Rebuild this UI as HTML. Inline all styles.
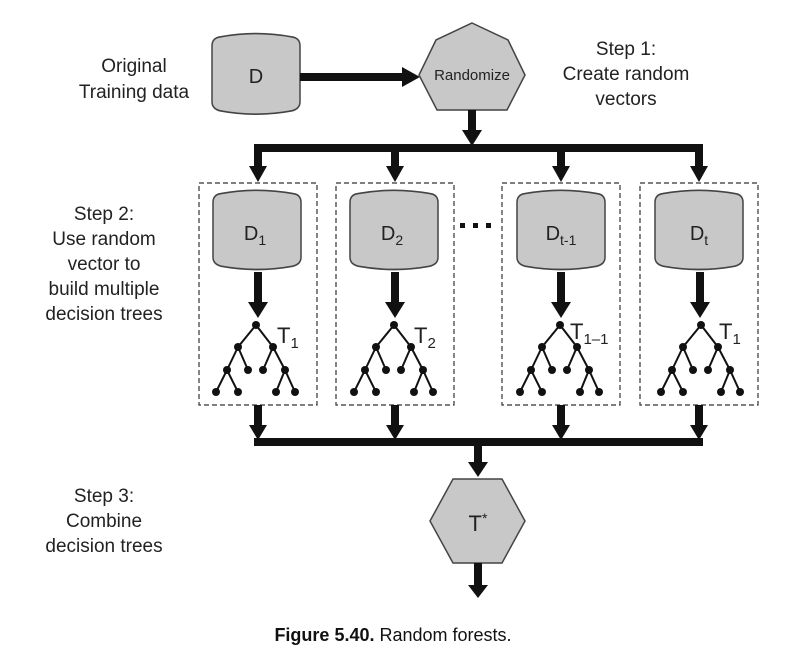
<!DOCTYPE html>
<html><head><style>
body{margin:0;background:#fff;}
svg{display:block;font-family:"Liberation Sans",sans-serif;}
</style></head><body>
<svg width="787" height="660" viewBox="0 0 787 660" xmlns="http://www.w3.org/2000/svg">
<defs>
<g id="tree" stroke="#111" stroke-width="2" fill="#111">
<line x1="0" y1="0" x2="-18" y2="22"/><line x1="0" y1="0" x2="17" y2="22"/>
<line x1="-18" y1="22" x2="-29" y2="45"/><line x1="-18" y1="22" x2="-8" y2="45"/>
<line x1="17" y1="22" x2="7" y2="45"/><line x1="17" y1="22" x2="29" y2="45"/>
<line x1="-29" y1="45" x2="-40" y2="67"/><line x1="-29" y1="45" x2="-18" y2="67"/>
<line x1="29" y1="45" x2="20" y2="67"/><line x1="29" y1="45" x2="39" y2="67"/>
<g stroke="none">
<circle cx="0" cy="0" r="4"/><circle cx="-18" cy="22" r="4"/><circle cx="17" cy="22" r="4"/>
<circle cx="-29" cy="45" r="4"/><circle cx="-8" cy="45" r="4"/><circle cx="7" cy="45" r="4"/><circle cx="29" cy="45" r="4"/>
<circle cx="-40" cy="67" r="4"/><circle cx="-18" cy="67" r="4"/><circle cx="20" cy="67" r="4"/><circle cx="39" cy="67" r="4"/>
</g></g>
<path id="cyl" d="M-44,-26 Q-44,-33 -36,-34 Q0,-40 36,-34 Q44,-33 44,-26 L44,24 Q44,30 36,32 Q0,38 -36,32 Q-44,30 -44,24 Z" fill="#c8c8c8" stroke="#444" stroke-width="1.5"/>
</defs>

<g font-size="19" fill="#222" text-anchor="middle">
<text x="134" y="72">Original</text><text x="134" y="98">Training data</text>
<text x="626" y="55">Step 1:</text><text x="626" y="80">Create random</text><text x="626" y="105">vectors</text>
<text x="104" y="220">Step 2:</text><text x="104" y="245">Use random</text><text x="104" y="270">vector to</text><text x="104" y="295">build multiple</text><text x="104" y="320">decision trees</text>
<text x="104" y="502">Step 3:</text><text x="104" y="527">Combine</text><text x="104" y="552">decision trees</text>
</g>

<use href="#cyl" transform="translate(256,75) scale(1,1.12)"/>
<text x="256" y="83" font-size="20" text-anchor="middle" fill="#222">D</text>
<rect x="300" y="73" width="105" height="8" fill="#111"/>
<polygon points="402,67 420,77 402,87" fill="#111"/>

<polygon points="472,23 508,40 525,75 507,110 437,110 419,75 436,40" fill="#c8c8c8" stroke="#444" stroke-width="1.5"/>
<text x="472" y="80" font-size="15" text-anchor="middle" fill="#222">Randomize</text>
<rect x="468" y="110" width="8" height="28" fill="#111"/>
<polygon points="462,130 482,130 472,146" fill="#111"/>

<rect x="254" y="144" width="449" height="8" fill="#111"/>
<g fill="#111">
<rect x="254" y="148" width="8" height="22"/><polygon points="249,166 267,166 258,182"/>
<rect x="391" y="148" width="8" height="22"/><polygon points="386,166 404,166 395,182"/>
<rect x="557" y="148" width="8" height="22"/><polygon points="552,166 570,166 561,182"/>
<rect x="695" y="148" width="8" height="22"/><polygon points="690,166 708,166 699,182"/>
</g>

<g fill="none" stroke="#333" stroke-width="1.2" stroke-dasharray="5,3">
<rect x="199" y="183" width="118" height="222"/>
<rect x="336" y="183" width="118" height="222"/>
<rect x="502" y="183" width="118" height="222"/>
<rect x="640" y="183" width="118" height="222"/>
</g>
<g fill="#111"><rect x="460" y="223" width="5" height="5"/><rect x="473" y="223" width="5" height="5"/><rect x="486" y="223" width="5" height="5"/></g>

<use href="#cyl" transform="translate(257,231) scale(1,1.1)"/>
<use href="#cyl" transform="translate(394,231) scale(1,1.1)"/>
<use href="#cyl" transform="translate(561,231) scale(1,1.1)"/>
<use href="#cyl" transform="translate(699,231) scale(1,1.1)"/>
<g font-size="20" fill="#222" text-anchor="middle">
<text x="255" y="240">D<tspan font-size="14" dy="5">1</tspan></text>
<text x="392" y="240">D<tspan font-size="14" dy="5">2</tspan></text>
<text x="561" y="240">D<tspan font-size="14" dy="5">t-1</tspan></text>
<text x="699" y="240">D<tspan font-size="14" dy="5">t</tspan></text>
</g>

<g fill="#111">
<rect x="254" y="272" width="8" height="32"/><polygon points="248,302 268,302 258,318"/>
<rect x="391" y="272" width="8" height="32"/><polygon points="385,302 405,302 395,318"/>
<rect x="557" y="272" width="8" height="32"/><polygon points="551,302 571,302 561,318"/>
<rect x="696" y="272" width="8" height="32"/><polygon points="690,302 710,302 700,318"/>
</g>

<use href="#tree" transform="translate(256,325)"/>
<use href="#tree" transform="translate(394,325)"/>
<use href="#tree" transform="translate(560,325)"/>
<use href="#tree" transform="translate(701,325)"/>
<g font-size="22" fill="#222">
<text x="277" y="343">T<tspan font-size="15" dy="5">1</tspan></text>
<text x="414" y="343">T<tspan font-size="15" dy="5">2</tspan></text>
<text x="570" y="339">T<tspan font-size="15" dy="5">1–1</tspan></text>
<text x="719" y="339">T<tspan font-size="15" dy="5">1</tspan></text>
</g>

<g fill="#111">
<rect x="254" y="405" width="8" height="24"/><polygon points="249,425 267,425 258,440"/>
<rect x="391" y="405" width="8" height="24"/><polygon points="386,425 404,425 395,440"/>
<rect x="557" y="405" width="8" height="24"/><polygon points="552,425 570,425 561,440"/>
<rect x="695" y="405" width="8" height="24"/><polygon points="690,425 708,425 699,440"/>
<rect x="254" y="438" width="449" height="8"/>
<rect x="474" y="442" width="8" height="22"/><polygon points="468,462 488,462 478,477"/>
</g>

<polygon points="453,479 502,479 525,521 502,563 453,563 430,521" fill="#c8c8c8" stroke="#444" stroke-width="1.5"/>
<text x="478" y="531" font-size="22" text-anchor="middle" fill="#222">T<tspan font-size="14" dy="-8">*</tspan></text>
<g fill="#111"><rect x="474" y="563" width="8" height="24"/><polygon points="468,585 488,585 478,598"/></g>

<text x="393" y="641" font-size="18" text-anchor="middle" fill="#111"><tspan font-weight="bold">Figure 5.40.</tspan>  Random forests.</text>
</svg>
</body></html>
